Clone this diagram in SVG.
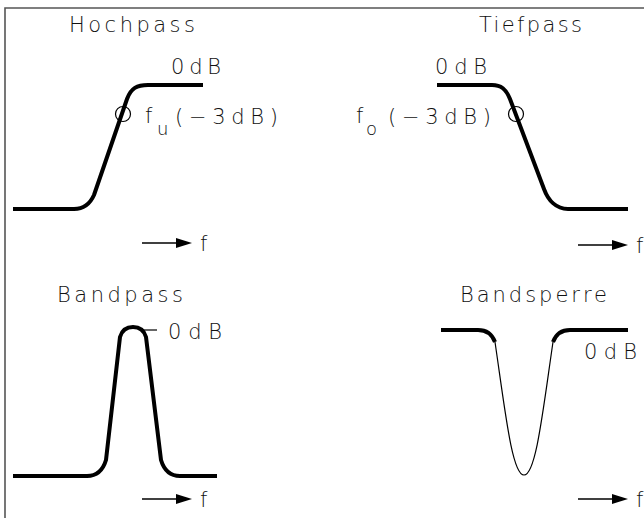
<svg xmlns="http://www.w3.org/2000/svg" width="644" height="518" viewBox="0 0 644 518">
<style>
text{font-family:"DejaVu Sans","Liberation Sans",sans-serif;font-weight:200;fill:#111;}
.t{font-size:21px;}
.l{font-size:21px;}
.s{font-size:18px;}
.curve{fill:none;stroke:#000;stroke-width:4;stroke-linejoin:round;}
.thin{fill:none;stroke:#000;stroke-width:1.2;}
.ax{fill:none;stroke:#000;stroke-width:1.3;}
.head{fill:#000;stroke:none;}
</style>
<rect width="644" height="518" fill="#fff"/>
<path d="M5,518 V8 H644" fill="none" stroke="#555" stroke-width="1.6"/>

<g id="hochpass">
<text class="t" x="69" y="32" textLength="126" lengthAdjust="spacing">Hochpass</text>
<text class="l" x="171" y="74" textLength="50" lengthAdjust="spacing">0dB</text>
<path class="curve" d="M13,209 H74 C84,209 90,204 94,195 L127,99 C131,88 137,85 148,85 H203"/>
<circle class="thin" cx="123" cy="114" r="7.5"/>
<text class="l" x="145" y="123">f</text>
<text class="s" x="157" y="135">u</text>
<text class="l" x="175" y="124" textLength="103" lengthAdjust="spacing">(−3dB)</text>
</g>

<g id="tiefpass">
<text class="t" x="479" y="32" textLength="103" lengthAdjust="spacing">Tiefpass</text>
<text class="l" x="435" y="74" textLength="52" lengthAdjust="spacing">0dB</text>
<path class="curve" d="M437,85 H492 C501,85 506,89 510,99 L544,189 C548,200 556,209 568,209 H628"/>
<circle class="thin" cx="516" cy="114" r="7.5"/>
<text class="l" x="356" y="123">f</text>
<text class="s" x="366" y="135">o</text>
<text class="l" x="388" y="124" textLength="103" lengthAdjust="spacing">(−3dB)</text>
</g>

<g id="bandpass">
<text class="t" x="57" y="302" textLength="126" lengthAdjust="spacing">Bandpass</text>
<path class="curve" d="M13,476 H87 C97,476 103,470 106,460 L120,337 C122,330 127,327 133,327 C139,327 144,330 146,337 L161,460 C164,470 170,476 180,476 H217"/>
<path class="thin" d="M143,330 H157"/>
<text class="l" x="168" y="339" textLength="54" lengthAdjust="spacing">0dB</text>
</g>

<g id="bandsperre">
<text class="t" x="460" y="302" textLength="147" lengthAdjust="spacing">Bandsperre</text>
<path class="curve" d="M441,330 H478 C486,330 492,334 495,342"/>
<path class="curve" d="M553,342 C556,334 562,330 570,330 H628"/>
<path class="thin" d="M495,342 C505,410 512,475 524,475 C536,475 543,410 553,342"/>
<text class="l" x="584" y="359" textLength="53" lengthAdjust="spacing">0dB</text>
</g>

<g id="connectors">
<path class="ax" d="M142,243 H178"/>
<polygon class="head" points="176,238 192,243 176,248"/>
<path class="ax" d="M578,245 H614"/>
<polygon class="head" points="612,240 628,245 612,250"/>
<path class="ax" d="M142,499 H178"/>
<polygon class="head" points="176,494 192,499 176,504"/>
<path class="ax" d="M578,499 H614"/>
<polygon class="head" points="612,494 628,499 612,504"/>
</g>
<text class="l" x="200" y="251">f</text>
<text class="l" x="636" y="253">f</text>
<text class="l" x="200" y="507">f</text>
<text class="l" x="636" y="507">f</text>
</svg>
